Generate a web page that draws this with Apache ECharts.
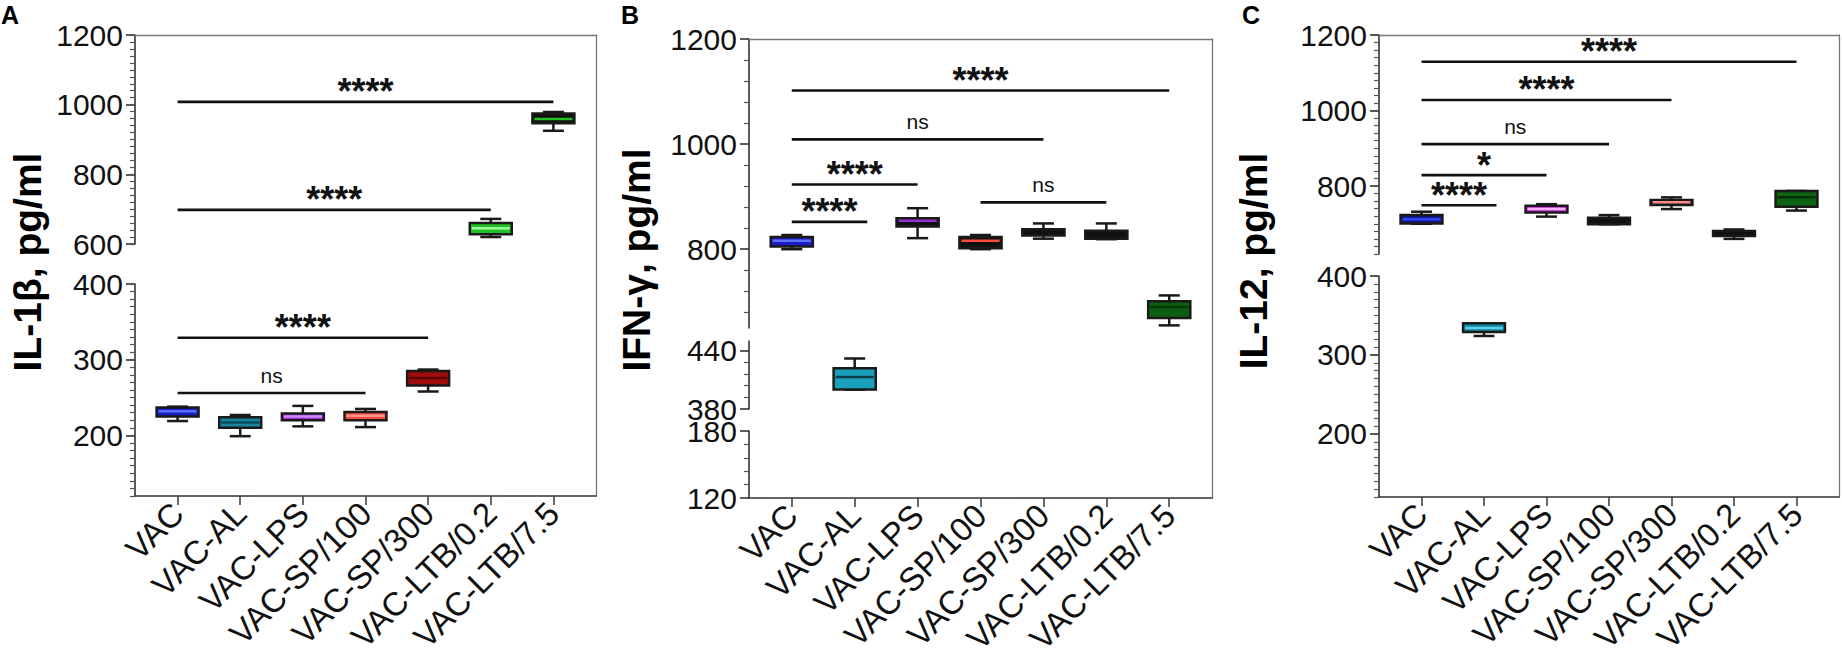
<!DOCTYPE html>
<html>
<head>
<meta charset="utf-8">
<script src="https://cdn.jsdelivr.net/npm/echarts@6/dist/echarts.min.js"></script>
<style>
  html, body { margin: 0; padding: 0; background: #fff; }
  #chart { width: 1842px; height: 663px; }
</style>
</head>
<body>
<div id="chart"></div>
<script>
const categories = ['VAC', 'VAC-AL', 'VAC-LPS', 'VAC-SP/100', 'VAC-SP/300', 'VAC-LTB/0.2', 'VAC-LTB/7.5'];
const catIndex = [0, 1, 2, 3, 4, 5, 6];

// box values per group: [min, q1, median, q3, max]
const il1bBoxes = [
  [219, 225, 232, 237, 238],
  [199, 210, 217, 224, 227],
  [212, 220, 225, 229, 239],
  [211, 220, 226, 231, 235],
  [258, 266, 276, 285, 287],
  [620, 628, 645, 660, 672],
  [925, 947, 959, 975, 979]
];
const ifngBoxes = [
  [800, 805, 816, 823, 827],
  [400, 400, 413, 422, 432],
  [821, 843, 854, 859, 878],
  [800, 802, 816, 823, 827],
  [820, 826, 832, 838, 849],
  [819, 820, 827, 835, 849],
  [655, 669, 690, 701, 712]
];
const il12Boxes = [
  [700, 701, 712, 723, 732],
  [324, 329, 334, 340, 340],
  [719, 730, 739, 748, 752],
  [699, 699, 708, 716, 723],
  [739, 750, 757, 763, 770],
  [660, 668, 675, 681, 685],
  [735, 745, 770, 787, 787]
];

// significance brackets: [from group, to group, height, label]
const il1bBrackets = [[0, 6, 1008, '****'], [0, 5, 698, '****'], [0, 4, 329, '****'], [0, 3, 256, 'ns']];
const ifngBrackets = [[0, 6, 1102, '****'], [0, 4, 1009, 'ns'], [0, 2, 923, '****'], [0, 1.2, 852, '****'], [3, 5, 889, 'ns']];
const il12Brackets = [[0, 6, 1129, '****'], [0, 4, 1028, '****'], [0, 3, 911, 'ns'], [0, 2, 829, '*'], [0, 1.2, 749, '****']];

// y tick labels per axis segment
const il1bUpperTicks = [600, 800, 1000, 1200];
const il1bLowerTicks = [200, 300, 400];
const ifngUpperTicks = [800, 1000, 1200];
const ifngUpperMinor = [680, 720, 760, 840, 880, 920, 960, 1040, 1080, 1120, 1160];
const ifngMidTicks = [380, 440];
const ifngMidMinor = [392, 404, 416, 428];
const ifngLowTicks = [120, 180];
const ifngLowMinor = [132, 144, 156, 168];
const il12UpperTicks = [800, 1000, 1200];
const il12LowerTicks = [200, 300, 400];

// colours
const il1bFill = ['#1c1cc8', '#17869c', '#9a2fd4', '#ff4a3d', '#a00c0c', '#22c022', '#111111'];
const il1bMedian = ['#5a72ff', '#0b4a58', '#d08cff', '#ff9a8a', '#5a0000', '#9cff9c', '#22c022'];
const ifngFill = ['#1c1cc8', '#1aa0bb', '#111111', '#111111', '#111111', '#111111', '#0d5e12'];
const ifngMedian = ['#5a72ff', '#0a3f4a', '#9a2fd4', '#ff4a3d', '#111111', '#111111', '#063a08'];
const il12Fill = ['#16168c', '#0e8aa3', '#c21fd6', '#111111', '#111111', '#111111', '#0d6514'];
const il12Median = ['#3344ff', '#5fd0e8', '#f5b0ff', '#111111', '#ff8a8a', '#111111', '#052d08'];

const FONT = '"Liberation Sans", Arial, sans-serif';
const X_MIN = -0.68, X_MAX = 6.68;

const panels = [
  {
    letter: 'A', letterX: 1, title: 'IL-1\u03b2, pg/ml', titleX: 27, titleY: 262,
    left: 135, width: 461, boxes: il1bBoxes, brackets: il1bBrackets, fill: il1bFill, median: il1bMedian,
    segments: [
      { top: 35, bottom: 244, min: 600, max: 1200, ticks: il1bUpperTicks, minorStep: 20 },
      { top: 284, bottom: 496, min: 120, max: 400, ticks: il1bLowerTicks, minorStep: 10 }
    ]
  },
  {
    letter: 'B', letterX: 621, title: 'IFN-\u03b3, pg/ml', titleX: 636, titleY: 260,
    left: 749, width: 463, boxes: ifngBoxes, brackets: ifngBrackets, fill: ifngFill, median: ifngMedian,
    segments: [
      { top: 39, bottom: 328, min: 650, max: 1200, ticks: ifngUpperTicks, minor: ifngUpperMinor },
      { top: 341, bottom: 409, min: 380, max: 450, ticks: ifngMidTicks, minor: ifngMidMinor },
      { top: 431, bottom: 498, min: 120, max: 180, ticks: ifngLowTicks, minor: ifngLowMinor }
    ]
  },
  {
    letter: 'C', letterX: 1242, title: 'IL-12, pg/ml', titleX: 1253, titleY: 261,
    left: 1379, width: 460, boxes: il12Boxes, brackets: il12Brackets, fill: il12Fill, median: il12Median,
    segments: [
      { top: 35, bottom: 254, min: 620, max: 1200, ticks: il12UpperTicks, minorStep: 20 },
      { top: 276, bottom: 497, min: 120, max: 400, ticks: il12LowerTicks, minorStep: 10 }
    ]
  }
];

function boxRenderer(panel) {
  return function (params, api) {
    const i = api.value(0);
    const lo = api.coord([i, api.value(1)]);
    const q1 = api.coord([i, api.value(2)]);
    const md = api.coord([i, api.value(3)]);
    const q3 = api.coord([i, api.value(4)]);
    const hi = api.coord([i, api.value(5)]);
    const bw = api.size([0.67, 0])[0];
    const cw = bw / 2;
    const x = lo[0];
    const stroke = { stroke: '#1a1a1a', lineWidth: 2.5 };
    return {
      type: 'group',
      children: [
        { type: 'line', shape: { x1: x, y1: hi[1], x2: x, y2: lo[1] }, style: stroke },
        { type: 'line', shape: { x1: x - cw / 2, y1: hi[1], x2: x + cw / 2, y2: hi[1] }, style: stroke },
        { type: 'line', shape: { x1: x - cw / 2, y1: lo[1], x2: x + cw / 2, y2: lo[1] }, style: stroke },
        { type: 'rect', shape: { x: x - bw / 2, y: q3[1], width: bw, height: Math.max(q1[1] - q3[1], 1) },
          style: { fill: panel.fill[i], stroke: '#1a1a1a', lineWidth: 2.5 } },
        { type: 'line', shape: { x1: x - bw / 2 + 2, y1: md[1], x2: x + bw / 2 - 2, y2: md[1] },
          style: { stroke: panel.median[i], lineWidth: 2.5 } }
      ]
    };
  };
}

function bracketRenderer(rows) {
  return function (params, api) {
    const row = rows[params.dataIndex];
    const a = api.coord([row[0], row[2]]);
    const b = api.coord([row[1], row[2]]);
    const label = row[3];
    const star = label.indexOf('*') >= 0;
    return {
      type: 'group',
      children: [
        { type: 'line', shape: { x1: a[0], y1: a[1], x2: b[0], y2: b[1] }, style: { stroke: '#111', lineWidth: 2.6 } },
        { type: 'text', x: (a[0] + b[0]) / 2, y: a[1] - (star ? 10 : 18),
          style: { text: label, fill: '#111', align: 'center', verticalAlign: 'middle',
                   font: star ? 'bold 36px ' + FONT : '21px ' + FONT } }
      ]
    };
  };
}

const option = { animation: false, grid: [], xAxis: [], yAxis: [], series: [], graphic: [] };

panels.forEach(function (p) {
  const segTop = p.segments[0].top;
  const segBottom = p.segments[p.segments.length - 1].bottom;

  // frame grid: bottom group axis, top and right border
  const fg = option.grid.length;
  option.grid.push({ left: p.left, top: segTop, width: p.width, height: segBottom - segTop, outerBoundsMode: 'none' });
  option.xAxis.push({
    gridIndex: fg, type: 'value', min: X_MIN, max: X_MAX, position: 'bottom',
    axisLine: { onZero: false, lineStyle: { color: '#333', width: 1.6 } },
    axisTick: { customValues: catIndex, length: 9, lineStyle: { color: '#444', width: 1.6 } },
    axisLabel: { customValues: catIndex, formatter: function (v) { return categories[Math.round(v)]; },
                 rotate: 45, fontSize: 33, fontFamily: FONT, color: '#111', margin: 12 },
    splitLine: { show: false }
  });
  option.xAxis.push({
    gridIndex: fg, type: 'value', min: X_MIN, max: X_MAX, position: 'top',
    axisLine: { onZero: false, lineStyle: { color: '#777', width: 1.3 } },
    axisTick: { show: false }, axisLabel: { show: false }, splitLine: { show: false }
  });
  option.yAxis.push({
    gridIndex: fg, type: 'value', min: 0, max: 1, position: 'right',
    axisLine: { show: true, onZero: false, lineStyle: { color: '#777', width: 1.3 } },
    axisTick: { show: false }, axisLabel: { show: false }, splitLine: { show: false }
  });

  p.segments.forEach(function (s) {
    const g = option.grid.length;
    option.grid.push({ left: p.left, top: s.top, width: p.width, height: s.bottom - s.top, outerBoundsMode: 'none' });
    const xi = option.xAxis.length;
    option.xAxis.push({ gridIndex: g, type: 'value', min: X_MIN, max: X_MAX, show: false });
    const yi = option.yAxis.length;
    option.yAxis.push({
      gridIndex: g, type: 'value', min: s.min, max: s.max, position: 'left',
      axisLine: { show: true, onZero: false, lineStyle: { color: '#333', width: 1.6 } },
      axisTick: { customValues: s.ticks, length: 9, lineStyle: { color: '#333', width: 1.6 } },
      axisLabel: { customValues: s.ticks, formatter: function (v) { return String(v); },
                   fontSize: 30, fontFamily: FONT, color: '#111', margin: 12 },
      splitLine: { show: false }
    });
    const minorAxis = {
      gridIndex: g, type: 'value', min: s.min, max: s.max, position: 'left',
      axisLine: { show: false, onZero: false },
      axisTick: { length: 5, lineStyle: { color: '#555', width: 1.2 } },
      axisLabel: { show: false }, splitLine: { show: false }
    };
    if (s.minor) minorAxis.axisTick.customValues = s.minor;
    else minorAxis.interval = s.minorStep;
    option.yAxis.push(minorAxis);

    const boxData = p.boxes.map(function (b, i) { return [i].concat(b); })
      .filter(function (d) { return d[3] >= s.min && d[3] <= s.max; });
    option.series.push({
      type: 'custom', xAxisIndex: xi, yAxisIndex: yi, renderItem: boxRenderer(p),
      encode: { x: 0, y: [1, 2, 3, 4, 5] }, data: boxData, z: 3
    });
    const brRows = p.brackets.filter(function (b) { return b[2] >= s.min && b[2] <= s.max; });
    option.series.push({
      type: 'custom', xAxisIndex: xi, yAxisIndex: yi, renderItem: bracketRenderer(brRows),
      encode: { x: [0, 1], y: 2 }, data: brRows.map(function (b) { return [b[0], b[1], b[2]]; }), z: 4
    });
  });

  option.graphic.push({
    type: 'text', x: p.letterX, y: 2,
    style: { text: p.letter, font: 'bold 25px ' + FONT, fill: '#000', align: 'left', verticalAlign: 'top' }
  });
  option.graphic.push({
    type: 'text', x: p.titleX, y: p.titleY, rotation: Math.PI / 2,
    style: { text: p.title, font: 'bold 39px ' + FONT, fill: '#000', align: 'center', verticalAlign: 'middle' }
  });
});

const chart = echarts.init(document.getElementById('chart'), null, { renderer: 'svg' });
chart.setOption(option);
</script>
</body>
</html>
